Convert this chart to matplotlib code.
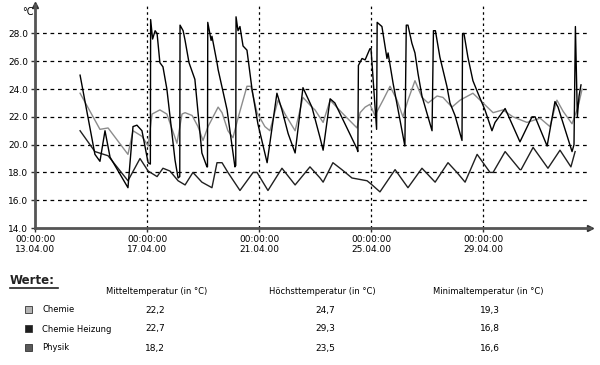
import matplotlib
matplotlib.use('Agg')
import matplotlib.pyplot as plt
from matplotlib.lines import Line2D

# days after 13.04.00 00:00 and temperatures in degC
heiz_t = [1.61, 2.14, 2.32, 2.50, 2.68, 3.32, 3.50, 3.64, 3.82, 4.04, 4.12, 4.13, 4.20, 4.29,
          4.36, 4.46, 4.57, 4.71, 5.00, 5.11, 5.17, 5.18, 5.29, 5.36, 5.50, 5.71, 5.96, 6.14,
          6.16, 6.17, 6.29, 6.32, 6.50, 6.54, 6.86, 7.14, 7.17, 7.18, 7.25, 7.32, 7.43, 7.57,
          7.75, 7.96, 8.29, 8.64, 8.82, 9.04, 9.29, 9.57, 9.89, 10.18, 10.29, 10.54, 10.71,
          11.07, 11.50, 11.53, 11.55, 11.68, 11.79, 11.96, 12.00, 12.20, 12.22, 12.39, 12.50,
          12.57, 12.61, 12.79, 13.21, 13.26, 13.32, 13.46, 13.57, 13.68, 13.82, 14.18, 14.23,
          14.30, 14.46, 14.71, 14.82, 15.00, 15.25, 15.27, 15.32, 15.46, 15.64, 15.82, 16.07,
          16.32, 16.43, 16.79, 17.32, 17.75, 17.86, 18.29, 18.57, 18.68, 19.18, 19.25, 19.30,
          19.37, 19.43, 19.50]
heiz_v = [25.0, 19.3, 18.8, 21.0, 19.1, 16.9, 21.3, 21.4, 21.0, 18.7, 18.6, 29.0, 27.6, 28.2,
          28.0, 25.9, 25.6, 24.0, 18.9, 17.6, 17.7, 28.6, 28.2, 27.5, 25.9, 24.7, 19.4, 18.4,
          18.4, 28.8, 27.5, 27.8, 25.9, 25.4, 22.5, 18.4, 18.5, 29.2, 28.2, 28.5, 27.1, 26.8,
          24.0, 21.5, 18.7, 23.7, 22.5, 20.8, 19.4, 24.1, 22.7, 20.5, 19.6, 23.3, 23.0,
          21.5, 19.7, 19.5, 25.7, 26.2, 26.1, 26.9, 26.9, 21.1, 28.8, 28.5, 27.1,
          26.2, 26.6, 24.4, 19.9, 28.6, 28.6, 27.3, 26.6, 25.1, 23.5, 21.0, 28.2,
          28.2, 26.3, 24.2, 23.0, 22.1, 20.3, 28.0, 28.0, 26.3, 24.6, 23.7, 22.5,
          21.0, 21.6, 22.6, 20.2, 22.0, 22.0, 19.9, 23.1, 22.7, 19.5, 20.0, 28.5,
          22.0, 23.5, 24.3]

chemie_t = [1.61, 2.32, 2.61, 3.32, 3.50, 3.82, 4.04, 4.18, 4.46, 4.71, 5.07, 5.25, 5.36, 5.61,
            5.82, 6.00, 6.18, 6.54, 6.68, 6.89, 7.07, 7.25, 7.57, 7.71, 7.93, 8.21, 8.39, 8.68,
            8.93, 9.29, 9.57, 9.89, 10.00, 10.29, 10.54, 10.96, 11.50, 11.61, 11.79, 11.96,
            12.14, 12.43, 12.68, 12.93, 13.14, 13.32, 13.57, 13.82, 14.04, 14.36, 14.57, 14.89,
            15.18, 15.64, 16.00, 16.36, 16.71, 17.07, 17.57, 18.04, 18.39, 18.64, 18.86, 19.18,
            19.39, 19.54]
chemie_v = [23.7, 21.1, 21.2, 19.3, 21.0, 20.6, 19.9, 22.2, 22.5, 22.2, 20.1, 22.2, 22.3, 22.1,
            21.3, 20.3, 21.3, 22.7, 22.3, 21.0, 20.5, 21.9, 24.2, 24.2, 22.3, 21.3, 21.0, 23.2,
            22.2, 21.0, 23.4, 22.7, 22.5, 21.6, 23.2, 22.3, 21.2, 22.3, 22.7, 22.9,
            22.1, 23.2, 24.2, 23.2, 22.0, 23.2, 24.6, 23.4, 23.0, 23.5, 23.4, 22.7,
            23.2, 23.7, 23.0, 22.3, 22.5, 22.0, 21.6, 21.9, 21.3, 23.2, 22.4, 21.5,
            22.7, 24.0]

physik_t = [1.61, 2.14, 2.61, 3.32, 3.75, 4.04, 4.36, 4.57, 4.82, 5.11, 5.36, 5.64, 5.96, 6.32,
            6.50, 6.68, 6.89, 7.32, 7.79, 7.93, 8.32, 8.82, 9.29, 9.82, 10.18, 10.29, 10.64,
            10.96, 11.32, 11.86, 12.04, 12.32, 12.86, 13.32, 13.82, 14.29, 14.75, 15.07, 15.36,
            15.79, 16.25, 16.36, 16.79, 17.32, 17.36, 17.79, 18.32, 18.75, 19.14, 19.29]
physik_v = [21.0, 19.5, 19.2, 17.4, 19.0, 18.1, 17.7, 18.3, 18.1, 17.4, 17.1, 18.0, 17.3, 16.9,
            18.7, 18.7, 18.0, 16.7, 18.0, 18.0, 16.7, 18.3, 17.1, 18.4, 17.6, 17.3, 18.7,
            18.2, 17.6, 17.4, 17.1, 16.6, 18.2, 16.9, 18.3, 17.3, 18.7, 18.0, 17.3,
            19.3, 18.0, 18.0, 19.5, 18.2, 18.2, 19.8, 18.3, 19.6, 18.4, 19.5]

xtick_days = [0, 4, 8, 12, 16]
xtick_labels = ['00:00:00\n13.04.00', '00:00:00\n17.04.00', '00:00:00\n21.04.00',
                '00:00:00\n25.04.00', '00:00:00\n29.04.00']
ytick_vals = [14, 16, 18, 20, 22, 24, 26, 28]

names = ['Chemie', 'Chemie Heizung', 'Physik']
mittel = ['22,2', '22,7', '18,2']
hoechst = ['24,7', '29,3', '23,5']
minimal = ['19,3', '16,8', '16,6']
swatch = ['#b4b4b4', '#1e1e1e', '#5a5a5a']

fig = plt.figure(figsize=(6, 3.65), dpi=100)
ax = fig.add_axes([35/600, 1-228/365, 555/600, 223/365])

ax.plot(chemie_t, chemie_v, color='#8c8c8c', lw=1.0)
ax.plot(physik_t, physik_v, color='#202020', lw=1.0)
ax.plot(heiz_t, heiz_v, color='#000000', lw=1.0)

for y in ytick_vals[1:]:
    ax.axhline(y, color='black', lw=0.9, ls=(0, (3, 3)), zorder=0)
for d in xtick_days[1:]:
    ax.axvline(d, color='black', lw=0.9, ls=(0, (2, 2.5)), zorder=0)

ax.set_xlim(0, 555/28)
ax.set_ylim(14, 30.05)
for s in ['top', 'right']:
    ax.spines[s].set_visible(False)
for s in ['left', 'bottom']:
    ax.spines[s].set_color('#555555')
    ax.spines[s].set_linewidth(2)
ax.plot(1, 0, '>', color='#333333', ms=5, transform=ax.transAxes, clip_on=False)
ax.plot(0, 1, '^', color='#333333', ms=5, transform=ax.transAxes, clip_on=False)

ax.set_yticks(ytick_vals)
ax.set_yticklabels(['%.1f' % v for v in ytick_vals], fontsize=6.5)
ax.set_xticks(xtick_days)
ax.set_xticklabels(xtick_labels, fontsize=6.5, linespacing=1.1)
ax.tick_params(length=3, width=1, color='#333333', pad=2)
fig.text(22/600, 1-12/365, '°C', fontsize=7, ha='left', va='center')

# values table below the chart
fig.text(10/600, 1-280/365, 'Werte:', fontsize=8.5, fontweight='bold', color='#222222',
         va='center', ha='left')
fig.add_artist(Line2D([10/600, 58/600], [1-288/365, 1-288/365], color='#222222', lw=1.2,
                      transform=fig.transFigure))
col_x = [157, 322, 488]
headers = ['Mitteltemperatur (in °C)', 'Höchsttemperatur (in °C)', 'Minimaltemperatur (in °C)']
for cx, h in zip(col_x, headers):
    fig.text(cx/600, 1-291/365, h, fontsize=6, ha='center', va='center')
row_y = [310, 329, 348]
for i, ry in enumerate(row_y):
    fig.patches.append(plt.Rectangle((25/600, 1-(ry+3)/365), 7/600, 7/365, transform=fig.transFigure,
                                     facecolor=swatch[i], edgecolor='#333333', lw=0.6))
    fig.text(42/600, 1-ry/365, names[i], fontsize=6, ha='left', va='center')
    fig.text(155/600, 1-ry/365, mittel[i], fontsize=6.5, ha='center', va='center')
    fig.text(325/600, 1-ry/365, hoechst[i], fontsize=6.5, ha='center', va='center')
    fig.text(490/600, 1-ry/365, minimal[i], fontsize=6.5, ha='center', va='center')

fig.savefig('out.png', dpi=100)
